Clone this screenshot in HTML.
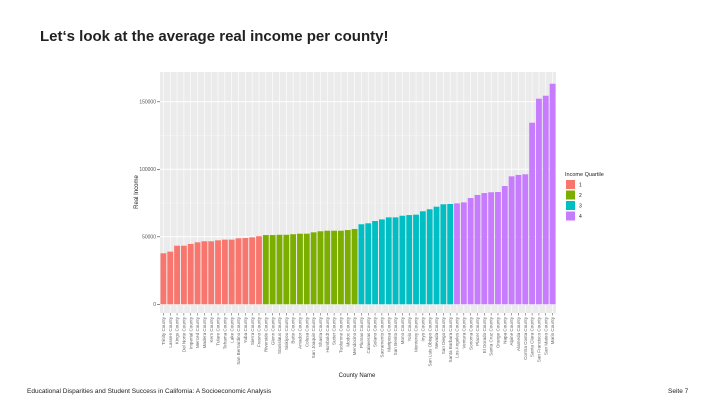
<!DOCTYPE html>
<html><head><meta charset="utf-8"><style>
body{margin:0;background:#fff;font-family:"Liberation Sans",sans-serif}
#wrap{position:relative;width:720px;height:405px;overflow:hidden}
</style></head><body><div id="wrap">
<div style="position:absolute;left:40px;top:28px;font-size:15px;font-weight:bold;color:#222">Let‘s look at the average real income per county!</div>
<svg id="chart" width="720" height="405" style="position:absolute;left:0;top:0"></svg>
<div style="position:absolute;left:27px;top:388px;font-size:6.5px;color:#222">Educational Disparities and Student Success in California: A Socioeconomic Analysis</div>
<div style="position:absolute;left:668px;top:388px;font-size:6.5px;color:#222">Seite 7</div>
</div>
<script>
const counties=["Trinity County","Lassen County","Kings County","Del Norte County","Imperial County","Merced County","Madera County","Kern County","Tulare County","Tehama County","Lake County","San Bernardino County","Yuba County","Sierra County","Fresno County",
"Riverside County","Glenn County","Stanislaus County","Siskiyou County","Butte County","Amador County","Colusa County","San Joaquin County","Shasta County","Humboldt County","Sutter County","Tuolumne County","Modoc County","Mendocino County",
"Plumas County","Calaveras County","Solano County","Sacramento County","Mariposa County","San Benito County","Mono County","Yolo County","Monterey County","Inyo County","San Luis Obispo County","Nevada County","San Diego County","Santa Barbara County",
"Los Angeles County","Ventura County","Sonoma County","Placer County","El Dorado County","Santa Cruz County","Orange County","Napa County","Alpine County","Alameda County","Contra Costa County","Santa Clara County","San Francisco County","San Mateo County","Marin County"];
const incomes=[37800,39000,43400,43400,44700,45900,46700,46700,47400,47900,47900,48900,49100,49600,50400,
51300,51300,51500,51500,51900,52300,52300,53300,54100,54500,54500,54500,55000,55800,
59300,60000,61700,62900,64400,64400,65600,66100,66400,68900,70400,72300,74100,74300,
74800,75500,78700,81000,82400,83000,83200,87600,94800,95800,96300,134500,152300,154500,163400];
const quartiles=[1,1,1,1,1,1,1,1,1,1,1,1,1,1,1,2,2,2,2,2,2,2,2,2,2,2,2,2,2,3,3,3,3,3,3,3,3,3,3,3,3,3,3,4,4,4,4,4,4,4,4,4,4,4,4,4,4,4,4];
const yTicks=[0,50000,100000,150000];
const legendLabels=["1","2","3","4"];
const colors={1:"#f8766d",2:"#7cae00",3:"#00bfc4",4:"#c77cff"};
const svg=document.getElementById('chart');const NS="http://www.w3.org/2000/svg";
const L=160,R=556,T=72,B=313;
const y=v=>304.3-v/50000*67.5;
const bw=(R-L)/counties.length;
const x=i=>L+bw*i;
function mk(t,a,p){const e=document.createElementNS(NS,t);for(const k in a)e.setAttribute(k,a[k]);(p||svg).appendChild(e);return e;}
const panel=mk('rect',{x:L,y:T,width:R-L,height:B-T,fill:'#ebebeb'});


for(let i=0;i<yTicks.length;i++){const m=yTicks[i]+25000;if(y(m)>T)mk('line',{x1:L,x2:R,y1:y(m),y2:y(m),stroke:'#f5f5f5','stroke-width':0.5});}
yTicks.forEach(v=>{
const g=mk('line',{x1:L,x2:R,y1:y(v),y2:y(v),stroke:'#fff','stroke-width':1});


mk('line',{x1:L-3,x2:L,y1:y(v),y2:y(v),stroke:'#444','stroke-width':0.6});
const t=mk('text',{x:L-4,y:y(v)+1.8,'font-size':5,'text-anchor':'end',fill:'#555'});t.textContent=v;


});
counties.forEach((c,i)=>{
const cx=x(i)+bw/2;
mk('line',{x1:cx,x2:cx,y1:T,y2:B,stroke:'#fff','stroke-width':0.6});
const b=mk('rect',{x:x(i)+0.5,y:y(incomes[i]),width:bw-1,height:y(0)-y(incomes[i]),fill:colors[quartiles[i]]});


mk('line',{x1:cx,x2:cx,y1:B,y2:B+2.5,stroke:'#444','stroke-width':0.5});
const t=mk('text',{x:0,y:0,'font-size':4.6,'text-anchor':'end',fill:'#666',transform:`translate(${cx+1.6},${B+4}) rotate(-90)`});t.textContent=c;


});
const yt=mk('text',{x:0,y:0,'font-size':6,'text-anchor':'middle',fill:'#222',transform:'translate(138,192) rotate(-90)'});yt.textContent='Real Income';


const xt=mk('text',{x:357,y:377,'font-size':6,'text-anchor':'middle',fill:'#222'});xt.textContent='County Name';


const lt=mk('text',{x:565,y:176,'font-size':5.5,fill:'#222'});lt.textContent='Income Quartile';


legendLabels.forEach((l,i)=>{
const r=mk('rect',{x:566,y:180+i*10.5,width:9,height:9,fill:colors[i+1]});


const t=mk('text',{x:579,y:186.5+i*10.5,'font-size':5,fill:'#222'});t.textContent=l;


});
</script></body></html>
